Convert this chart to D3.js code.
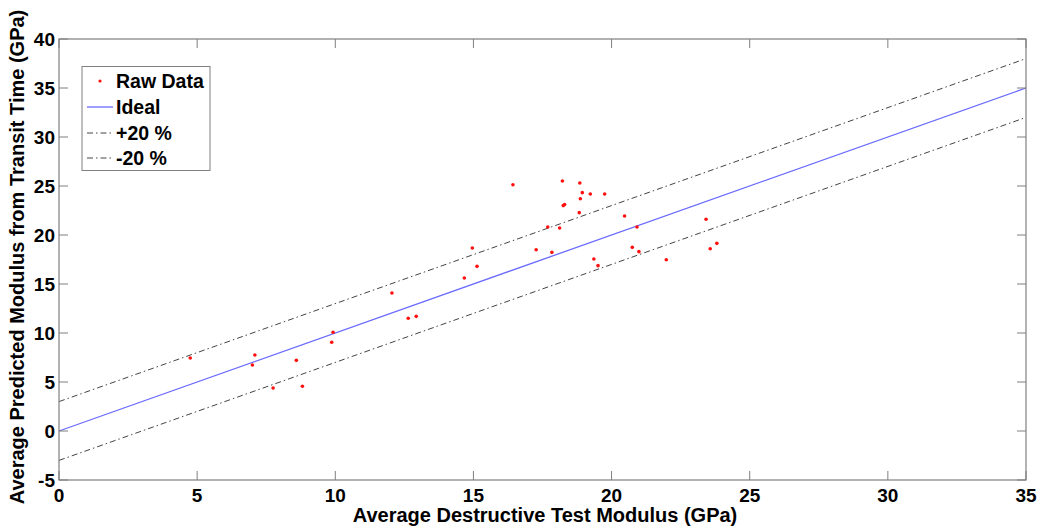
<!DOCTYPE html>
<html lang="en">
<head>
<meta charset="utf-8">
<title>Predicted vs destructive modulus</title>
<script src="https://d3js.org/d3.v7.min.js"></script>
<style>
  body { margin: 0; background: #fff; }
  text { font-family: Arial, "Liberation Sans", sans-serif; font-weight: bold; fill: #000; }
</style>
</head>
<body>
<script>
// measured (destructive) modulus, GPa
var rawX = [4.75, 7.09, 7.0, 8.59, 9.87, 9.92, 7.75, 8.81,
            12.05, 12.64, 12.93, 14.67, 14.96, 15.13,
            16.43, 18.22, 18.85, 18.94, 19.23, 19.75, 18.87, 18.25, 18.3, 18.83,
            20.47, 17.69, 18.12, 20.92, 23.42, 17.27, 17.84, 20.75, 20.99,
            23.81, 23.57, 19.36, 19.51, 21.98];
// predicted from transit time, GPa
var rawY = [7.45, 7.76, 6.73, 7.21, 9.05, 10.07, 4.39, 4.56,
            14.08, 11.5, 11.7, 15.61, 18.67, 16.8,
            25.13, 25.51, 25.31, 24.32, 24.18, 24.18, 23.7, 23.0, 23.1, 22.28,
            21.94, 20.82, 20.71, 20.82, 21.6, 18.5, 18.23, 18.74, 18.3,
            19.15, 18.6, 17.55, 16.87, 17.48];
var xTicks = [0, 5, 10, 15, 20, 25, 30, 35];
var yTicks = [-5, 0, 5, 10, 15, 20, 25, 30, 35, 40];
var bandOffset = 3;
var legendLabels = ["Raw Data", "Ideal", "+20 %", "-20 %"];

var W = 1041, H = 527;
var margin = {left: 59, right: 15, top: 39, bottom: 47};

var svg = d3.select("body").append("svg")
    .attr("width", W).attr("height", H);

var x = d3.scaleLinear().domain([0, 35]).range([margin.left, W - margin.right]);
var y = d3.scaleLinear().domain([-5, 40]).range([H - margin.bottom, margin.top]);

var axisColor = "#7f7f7f";

// lines
var line = d3.line().x(function(d) { return x(d[0]); }).y(function(d) { return y(d[1]); });
var ends = [0, 35];

svg.append("path")
    .datum(ends.map(function(v) { return [v, v + bandOffset]; }))
    .attr("d", line).attr("fill", "none")
    .attr("stroke", "#444").attr("stroke-width", 1)
    .attr("stroke-dasharray", "6,3,1.5,3");
svg.append("path")
    .datum(ends.map(function(v) { return [v, v - bandOffset]; }))
    .attr("d", line).attr("fill", "none")
    .attr("stroke", "#444").attr("stroke-width", 1)
    .attr("stroke-dasharray", "6,3,1.5,3");
svg.append("path")
    .datum(ends.map(function(v) { return [v, v]; }))
    .attr("d", line).attr("fill", "none")
    .attr("stroke", "#6a6aff").attr("stroke-width", 1.3);

// raw points
svg.selectAll(".pt").data(rawX).enter().append("circle")
    .attr("class", "pt")
    .attr("cx", function(d) { return x(d); })
    .attr("cy", function(d, i) { return y(rawY[i]); })
    .attr("r", 1.8)
    .attr("fill", "#ff1010");

// axes box and inward ticks
var x0 = x(0), x1 = x(35), y0 = y(-5), y1 = y(40);
svg.append("rect")
    .attr("x", x0).attr("y", y1)
    .attr("width", x1 - x0).attr("height", y0 - y1)
    .attr("fill", "none").attr("stroke", axisColor).attr("stroke-width", 1.2);

var tl = 9;
xTicks.forEach(function(t) {
  svg.append("line").attr("x1", x(t)).attr("x2", x(t)).attr("y1", y0).attr("y2", y0 - tl)
      .attr("stroke", axisColor);
  svg.append("line").attr("x1", x(t)).attr("x2", x(t)).attr("y1", y1).attr("y2", y1 + tl)
      .attr("stroke", axisColor);
  svg.append("text").attr("x", x(t)).attr("y", y0 + 22)
      .attr("text-anchor", "middle").attr("font-size", 19).text(t);
});
yTicks.forEach(function(t) {
  svg.append("line").attr("x1", x0).attr("x2", x0 + tl).attr("y1", y(t)).attr("y2", y(t))
      .attr("stroke", axisColor);
  svg.append("line").attr("x1", x1).attr("x2", x1 - tl).attr("y1", y(t)).attr("y2", y(t))
      .attr("stroke", axisColor);
  svg.append("text").attr("x", x0 - 4).attr("y", y(t) + 7)
      .attr("text-anchor", "end").attr("font-size", 19).text(t);
});

// axis titles
svg.append("text")
    .attr("x", 545).attr("y", 522)
    .attr("text-anchor", "middle").attr("font-size", 20)
    .text("Average Destructive Test Modulus (GPa)");
svg.append("text")
    .attr("transform", "translate(24,257) rotate(-90)")
    .attr("text-anchor", "middle").attr("font-size", 20)
    .text("Average Predicted Modulus from Transit Time (GPa)");

// legend
var lg = svg.append("g");
lg.append("rect").attr("x", 82).attr("y", 66.5).attr("width", 128).attr("height", 104)
    .attr("fill", "#fff").attr("stroke", axisColor).attr("stroke-width", 1);
var rowY = [81, 107, 133, 158];
legendLabels.forEach(function(lab, i) {
  var ry = rowY[i];
  if (i === 0) {
    lg.append("circle").attr("cx", 100).attr("cy", ry).attr("r", 1.6).attr("fill", "#ff1010");
  } else if (i === 1) {
    lg.append("line").attr("x1", 87).attr("x2", 113).attr("y1", ry).attr("y2", ry)
        .attr("stroke", "#6a6aff").attr("stroke-width", 1.3);
  } else {
    lg.append("line").attr("x1", 87).attr("x2", 113).attr("y1", ry).attr("y2", ry)
        .attr("stroke", "#444").attr("stroke-dasharray", "6,3,1.5,3");
  }
  lg.append("text").attr("x", 116).attr("y", ry + 7).attr("font-size", 19.5).text(lab);
});
</script>
</body>
</html>
